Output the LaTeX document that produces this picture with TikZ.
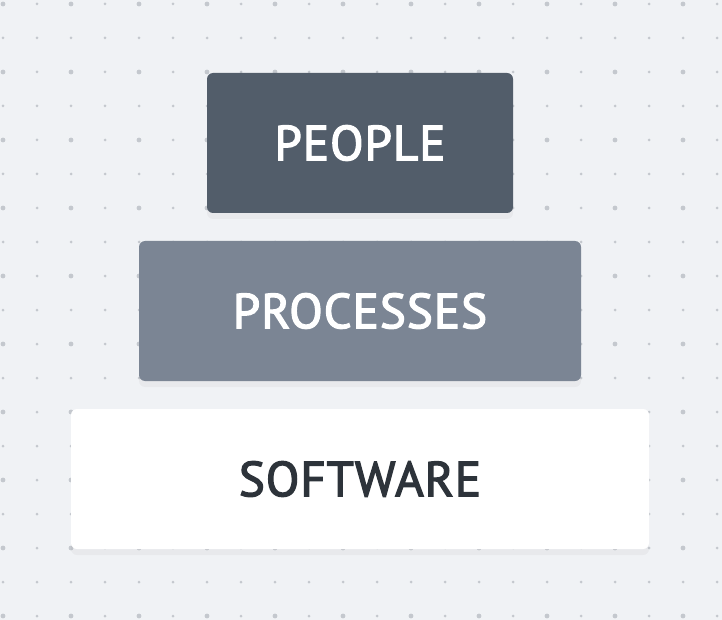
\documentclass[tikz,border=0pt]{standalone}
\usepackage{fontspec}
\setmainfont{PT Sans}
\newfontfamily\layerfont{PT Sans}[FakeBold=2.6,LetterSpace=2]
\usetikzlibrary{positioning,shadows}

\definecolor{paper}{HTML}{F0F2F5}
\definecolor{dotgray}{HTML}{C4C8CE}
\definecolor{slate}{HTML}{525D6A}
\definecolor{steel}{HTML}{7B8594}
\definecolor{ink}{HTML}{2D333A}

\begin{document}
\begin{tikzpicture}[x=1pt,y=-1pt,
node distance=28pt,
layer/.style={rectangle,rounded corners=6pt,minimum height=140pt,outer sep=0pt,
  inner sep=0pt,font=\layerfont\fontsize{49}{60}\selectfont,
  drop shadow={opacity=0.07,shadow xshift=0pt,shadow yshift=-6pt}}]
\tikzstyle{every node}=[text=white]
    \fill[paper] (0,0) rectangle (722,620);
    \useasboundingbox (0,0) rectangle (722,620);
    % dotted grid
    \foreach \i in {0,...,21}
      \foreach \j in {0,...,18} {
        \pgfmathsetmacro{\rad}{(mod(\i,2)==0 && mod(\j,2)==0) ? 2.4 : 1.5}
        \fill[dotgray] (3+34*\i,4+34*\j) circle (\rad pt);
      }
    % the three layers
    \node (People) [layer,fill=slate,minimum width=306pt] at (360,143) {PEOPLE};
    \node (Processes) [layer,fill=steel,minimum width=442pt,below=of People] {PROCESSES};
    \node (Software) [layer,fill=white,text=ink,minimum width=578pt,below=of Processes] {SOFTWARE};
\end{tikzpicture}
\end{document}
